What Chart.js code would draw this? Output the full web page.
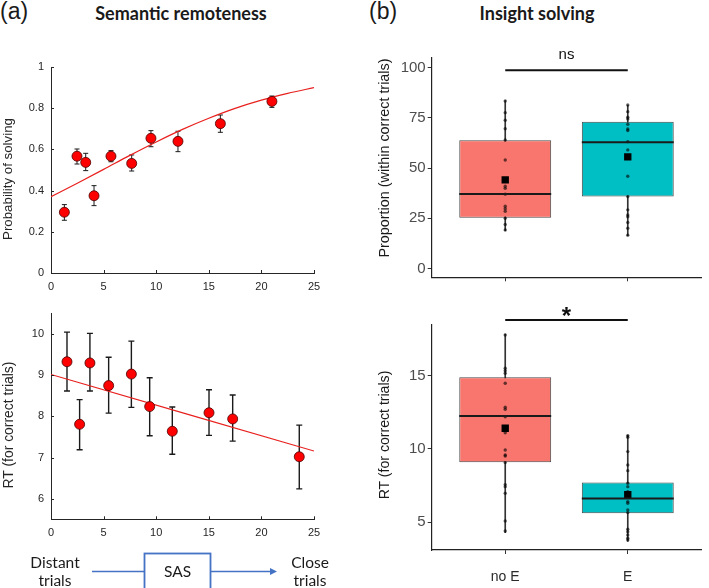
<!DOCTYPE html>
<html>
<head>
<meta charset="utf-8">
<script src="https://cdn.jsdelivr.net/npm/chart.js@4.4.1/dist/chart.umd.min.js"></script>
<style>
  body { margin: 0; background: #fff; }
  #fig { position: relative; width: 709px; height: 588px; overflow: hidden; font-family: 'Liberation Sans', Arial, sans-serif; }
  #fig canvas { position: absolute; }
  .lbl { position: absolute; white-space: nowrap; color: #1a1a1a; }
  .ttl { font-family: Lato, sans-serif; font-weight: bold; font-size: 18px; text-align: center; line-height: 20px; }
  .note { font-family: Lato, sans-serif; font-size: 15.5px; line-height: 18px; text-align: center; }
  .ytl { position: absolute; width: 260px; height: 18px; line-height: 18px; text-align: center; white-space: nowrap; transform: rotate(-90deg); }
</style>
</head>
<body>
<div id="fig">
  <div class="lbl" style="left:0;top:0;font-size:23px;line-height:23px">(a)</div>
  <div class="lbl ttl" style="left:81px;top:3px;width:200px">Semantic remoteness</div>
  <div class="lbl" style="left:369px;top:0;font-size:23px;line-height:23px">(b)</div>
  <div class="lbl ttl" style="left:437px;top:3px;width:200px">Insight solving</div>

  <canvas id="probChart" width="340" height="258" style="left:0;top:40px"></canvas>
  <canvas id="rtChart" width="340" height="248" style="left:0;top:300px"></canvas>
  <canvas id="propBox" width="359" height="260" style="left:350px;top:40px"></canvas>
  <canvas id="rtBox" width="359" height="288" style="left:350px;top:300px"></canvas>

  <div class="ytl" style="left:-122px;top:170px;font-size:13.3px;color:#262626">Probability of solving</div>
  <div class="ytl" style="left:-122px;top:416px;font-size:13.9px;color:#262626">RT (for correct trials)</div>
  <div class="ytl" style="left:253.5px;top:148.5px;font-size:14.4px;color:#1a1a1a">Proportion (within correct trials)</div>
  <div class="ytl" style="left:253.5px;top:426px;font-size:14.1px;color:#1a1a1a">RT (for correct trials)</div>

  <svg width="709" height="588" style="position:absolute;left:0;top:0">
    <line x1="92" y1="571.5" x2="144" y2="571.5" stroke="#4472C4" stroke-width="1.5"/>
    <rect x="144.5" y="553.5" width="66" height="45" fill="none" stroke="#4472C4" stroke-width="1.8"/>
    <line x1="211" y1="571.5" x2="271" y2="571.5" stroke="#4472C4" stroke-width="1.5"/>
    <polygon points="277,571.5 270,568 270,575" fill="#4472C4"/>
  </svg>
  <div class="lbl note" style="left:20px;top:553px;width:70px">Distant<br>trials</div>
  <div class="lbl note" style="left:145px;top:562px;width:65px">SAS</div>
  <div class="lbl note" style="left:275px;top:553px;width:70px">Close<br>trials</div>
</div>

<script>
// ---- (a) semantic remoteness: probability of solving per SAS bin
const sasBinsP  = [1.27, 2.47, 3.30, 4.09, 5.70, 7.67, 9.50, 12.07, 16.10, 21.00];
const probSolve = [0.295, 0.567, 0.537, 0.375, 0.567, 0.532, 0.654, 0.639, 0.725, 0.833];
const probLo    = [0.256, 0.529, 0.497, 0.327, 0.540, 0.495, 0.613, 0.589, 0.683, 0.804];
const probHi    = [0.332, 0.602, 0.581, 0.424, 0.594, 0.573, 0.691, 0.688, 0.767, 0.859];
const probFitX  = [0, 2.5, 5, 7.5, 10, 12.5, 15, 17.5, 20, 22.5, 25];
const probFitY  = [0.370, 0.436, 0.503, 0.571, 0.636, 0.697, 0.751, 0.799, 0.839, 0.872, 0.900];

// ---- (a) RT for correct trials per SAS bin
const sasBinsRT = [1.52, 2.72, 3.70, 5.48, 7.64, 9.38, 11.53, 15.02, 17.27, 23.60];
const rtMean    = [9.33, 7.81, 9.30, 8.75, 9.03, 8.24, 7.64, 8.09, 7.94, 7.02];
const rtLo      = [8.62, 7.19, 8.62, 8.08, 8.22, 7.53, 7.08, 7.54, 7.40, 6.24];
const rtHi      = [10.05, 8.41, 10.02, 9.44, 9.83, 8.94, 8.23, 8.65, 8.52, 7.79];
const rtFitX    = [0, 25];
const rtFitY    = [9.02, 7.16];

// ---- (b) insight solving, two groups
const groups    = ['no E', 'E'];
const boxColors = ['#F8766D', '#00BFC4'];

const propMin  = [18.9, 16.4];
const propQ1   = [25.3, 35.8];
const propMed  = [37.1, 62.8];
const propQ3   = [63.8, 73.0];
const propMax  = [83.5, 81.3];
const propMean = [44.1, 55.5];
const propNoE  = [83.3, 77.5, 73.7, 69.5, 63.9, 54.0, 40.9, 39.9, 37.0, 31.0, 29.8, 28.5, 25.0, 21.9, 19.2];
const propE    = [81.3, 78.0, 75.2, 74.4, 71.7, 69.4, 68.6, 63.1, 59.0, 45.9, 35.8, 29.2, 26.7, 25.8, 22.9, 20.1, 16.6];

const rtbMin  = [4.30, 3.70];
const rtbQ1   = [9.09, 5.61];
const rtbMed  = [12.25, 6.63];
const rtbQ3   = [14.89, 7.72];
const rtbMax  = [17.84, 10.95];
const rtbMean = [11.41, 6.88];
const rtNoE   = [17.77, 15.50, 15.34, 15.16, 14.48, 12.84, 12.71, 12.20, 11.11, 9.93, 9.59, 9.52, 9.07, 7.57, 7.43, 6.98, 5.09, 4.41];
const rtE     = [10.91, 10.80, 9.82, 8.91, 8.52, 7.66, 7.43, 7.09, 6.41, 6.30, 5.84, 5.66, 4.52, 4.36, 4.14, 3.91, 3.80];

// tick values
const sasTicks  = [0, 5, 10, 15, 20, 25];
const probTicks = [0, 0.2, 0.4, 0.6, 0.8, 1];
const rtTicksA  = [6, 7, 8, 9, 10];
const propTicks = [0, 25, 50, 75, 100];
const rtTicksB  = [5, 10, 15];
const groupTicks = [1, 2];

const sigProp = { y: 98.6, text: 'ns' };
const sigRT   = { y: 18.8, text: '*' };

Chart.defaults.font.family = "'Liberation Sans', Arial, sans-serif";

// matlab style: ticks pointing into the axes
const inwardTicks = {
  id: 'inwardTicks',
  afterDraw(chart) {
    const { ctx, chartArea: a, scales: { x, y } } = chart;
    ctx.save();
    ctx.strokeStyle = '#262626';
    ctx.lineWidth = 1;
    ctx.beginPath();
    x.ticks.forEach(t => {
      const px = Math.round(x.getPixelForValue(t.value)) + 0.5;
      ctx.moveTo(px, a.bottom); ctx.lineTo(px, a.bottom - 3);
    });
    y.ticks.forEach(t => {
      const py = Math.round(y.getPixelForValue(t.value)) + 0.5;
      ctx.moveTo(a.left, py); ctx.lineTo(a.left + 3, py);
    });
    ctx.stroke();
    ctx.restore();
  }
};

const errorBars = {
  id: 'errorBars',
  beforeDatasetsDraw(chart, args, opts) {
    const { ctx, scales: { x, y } } = chart;
    ctx.save();
    ctx.strokeStyle = opts.color;
    ctx.lineWidth = opts.width;
    opts.xs.forEach((v, i) => {
      const px = x.getPixelForValue(v);
      const top = y.getPixelForValue(opts.hi[i]);
      const bot = y.getPixelForValue(opts.lo[i]);
      ctx.beginPath();
      ctx.moveTo(px, top); ctx.lineTo(px, bot);
      ctx.moveTo(px - opts.cap, top); ctx.lineTo(px + opts.cap, top);
      ctx.moveTo(px - opts.cap, bot); ctx.lineTo(px + opts.cap, bot);
      ctx.stroke();
    });
    ctx.restore();
  }
};

// median lines + significance bar
const boxExtras = {
  id: 'boxExtras',
  afterDatasetsDraw(chart, args, opts) {
    const { ctx, scales: { x, y } } = chart;
    const boxMeta = chart.getDatasetMeta(opts.boxIndex);
    ctx.save();
    ctx.strokeStyle = '#1a1a1a';
    ctx.lineWidth = 2;
    opts.medians.forEach((m, i) => {
      const bar = boxMeta.data[i];
      const py = y.getPixelForValue(m);
      ctx.beginPath();
      ctx.moveTo(bar.x - bar.width / 2, py);
      ctx.lineTo(bar.x + bar.width / 2, py);
      ctx.stroke();
    });
    const py = y.getPixelForValue(opts.sig.y);
    const x1 = x.getPixelForValue(1), x2 = x.getPixelForValue(2);
    ctx.strokeStyle = '#111';
    ctx.lineWidth = 2;
    ctx.beginPath(); ctx.moveTo(x1, py); ctx.lineTo(x2, py); ctx.stroke();
    ctx.fillStyle = '#111';
    ctx.font = opts.font;
    ctx.textAlign = 'center';
    ctx.textBaseline = 'alphabetic';
    ctx.fillText(opts.sig.text, (x1 + x2) / 2, py + opts.textShift);
    ctx.restore();
  }
};

function lineChart(id, cfg) {
  const pts = cfg.xs.map((v, i) => ({ x: v, y: cfg.ys[i] }));
  const fit = cfg.fitX.map((v, i) => ({ x: v, y: cfg.fitY[i] }));
  return new Chart(document.getElementById(id), {
    type: 'scatter',
    data: {
      datasets: [
        { data: pts, order: 1, pointRadius: 5, backgroundColor: '#FF0000', borderColor: '#4a0000', borderWidth: 0.8 },
        { type: 'line', data: fit, order: 2, borderColor: '#E8201E', borderWidth: 1.2, pointRadius: 0, tension: 0.4, cubicInterpolationMode: 'monotone' }
      ]
    },
    options: {
      responsive: false, animation: false, devicePixelRatio: 1,
      layout: { padding: { top: cfg.padTop, right: 26, left: 0, bottom: 0 } },
      plugins: {
        legend: { display: false }, tooltip: { enabled: false },
        errorBars: { xs: cfg.xs, lo: cfg.lo, hi: cfg.hi, color: '#1a1a1a', width: cfg.errW, cap: cfg.cap }
      },
      scales: {
        x: {
          type: 'linear', min: 0, max: 25,
          afterBuildTicks: s => { s.ticks = sasTicks.map(v => ({ value: v })); },
          afterFit: s => { s.height = cfg.xH; },
          grid: { display: false, drawTicks: false },
          border: { display: true, color: '#262626', width: 1 },
          ticks: { padding: 7, color: '#262626', font: { size: 11 }, maxRotation: 0, callback: v => v }
        },
        y: {
          min: cfg.yMin, max: cfg.yMax,
          afterBuildTicks: s => { s.ticks = cfg.yTicks.map(v => ({ value: v })); },
          afterFit: s => { s.width = 51; },
          grid: { display: false, drawTicks: false },
          border: { display: true, color: '#262626', width: 1 },
          ticks: { padding: 7, color: '#262626', font: { size: 11 }, callback: v => v }
        }
      }
    },
    plugins: [errorBars, inwardTicks]
  });
}

function boxChart(id, cfg) {
  const idx = [0, 1];
  return new Chart(document.getElementById(id), {
    type: 'bar',
    data: {
      datasets: [
        { type: 'scatter', order: 1, data: idx.map(i => ({ x: i + 1, y: cfg.mean[i] })),
          pointStyle: 'rect', pointRadius: 5.2, backgroundColor: '#000', borderWidth: 0 },
        { type: 'scatter', order: 2,
          data: cfg.noE.map(v => ({ x: 1, y: v })).concat(cfg.e.map(v => ({ x: 2, y: v }))),
          pointRadius: 1.7, backgroundColor: 'rgba(0,0,0,0.6)', borderWidth: 0 },
        { order: 3, grouped: false, data: idx.map(i => ({ x: i + 1, y: [cfg.q1[i], cfg.q3[i]] })),
          backgroundColor: boxColors, borderColor: 'rgba(40,40,40,0.85)', borderWidth: 1,
          borderSkipped: false, barPercentage: 0.75, categoryPercentage: 1 },
        { order: 4, grouped: false, data: idx.map(i => ({ x: i + 1, y: [cfg.min[i], cfg.max[i]] })),
          backgroundColor: '#333', borderWidth: 0, barThickness: 1 }
      ]
    },
    options: {
      responsive: false, animation: false, devicePixelRatio: 1,
      layout: { padding: { top: cfg.padTop, right: 7.7, left: 0, bottom: 0 } },
      plugins: {
        legend: { display: false }, tooltip: { enabled: false },
        boxExtras: { boxIndex: 2, medians: cfg.med, sig: cfg.sig, font: cfg.sigFont, textShift: cfg.textShift }
      },
      scales: {
        x: {
          type: 'linear', min: 0.4, max: 2.6, offset: false,
          afterBuildTicks: s => { s.ticks = groupTicks.map(v => ({ value: v })); },
          afterFit: s => { s.height = cfg.xH; },
          grid: { drawOnChartArea: false, offset: false, tickLength: 4, color: '#333' },
          border: { display: true, color: '#222', width: 1.2 },
          ticks: { padding: cfg.xPad, color: '#2a2a2a', font: { size: 14 }, maxRotation: 0,
                   callback: v => cfg.showGroups ? groups[v - 1] : '' }
        },
        y: {
          min: cfg.yMin, max: cfg.yMax,
          afterBuildTicks: s => { s.ticks = cfg.yTicks.map(v => ({ value: v })); },
          afterFit: s => { s.width = 81.7; },
          grid: { drawOnChartArea: false, tickLength: 4, color: '#333' },
          border: { display: true, color: '#222', width: 1.2 },
          ticks: { padding: 2, color: '#4D4D4D', font: { size: 15 }, callback: v => v }
        }
      }
    },
    plugins: [boxExtras]
  });
}

lineChart('probChart', {
  xs: sasBinsP, ys: probSolve, lo: probLo, hi: probHi, fitX: probFitX, fitY: probFitY,
  yMin: 0, yMax: 1, yTicks: probTicks,
  padTop: 27, xH: 25, errW: 1, cap: 2.5
});

lineChart('rtChart', {
  xs: sasBinsRT, ys: rtMean, lo: rtLo, hi: rtHi, fitX: rtFitX, fitY: rtFitY,
  yMin: 5.5, yMax: 10.5, yTicks: rtTicksA,
  padTop: 12.7, xH: 28.7, errW: 1.4, cap: 3
});

boxChart('propBox', {
  min: propMin, q1: propQ1, med: propMed, q3: propQ3, max: propMax, mean: propMean,
  noE: propNoE, e: propE, yMin: -4.3, yMax: 105, yTicks: propTicks,
  sig: sigProp, sigFont: '15px "Liberation Sans", Arial',
  textShift: -11, padTop: 17.3, xH: 22.7, xPad: 2, showGroups: false
});

boxChart('rtBox', {
  min: rtbMin, q1: rtbQ1, med: rtbMed, q3: rtbQ3, max: rtbMax, mean: rtbMean,
  noE: rtNoE, e: rtE, yMin: 3.11, yMax: 18.5, yTicks: rtTicksB,
  sig: sigRT, sigFont: 'bold 24px "Liberation Sans", Arial',
  textShift: 4, padTop: 24.3, xH: 38, xPad: 15, showGroups: true
});
</script>
</body>
</html>
